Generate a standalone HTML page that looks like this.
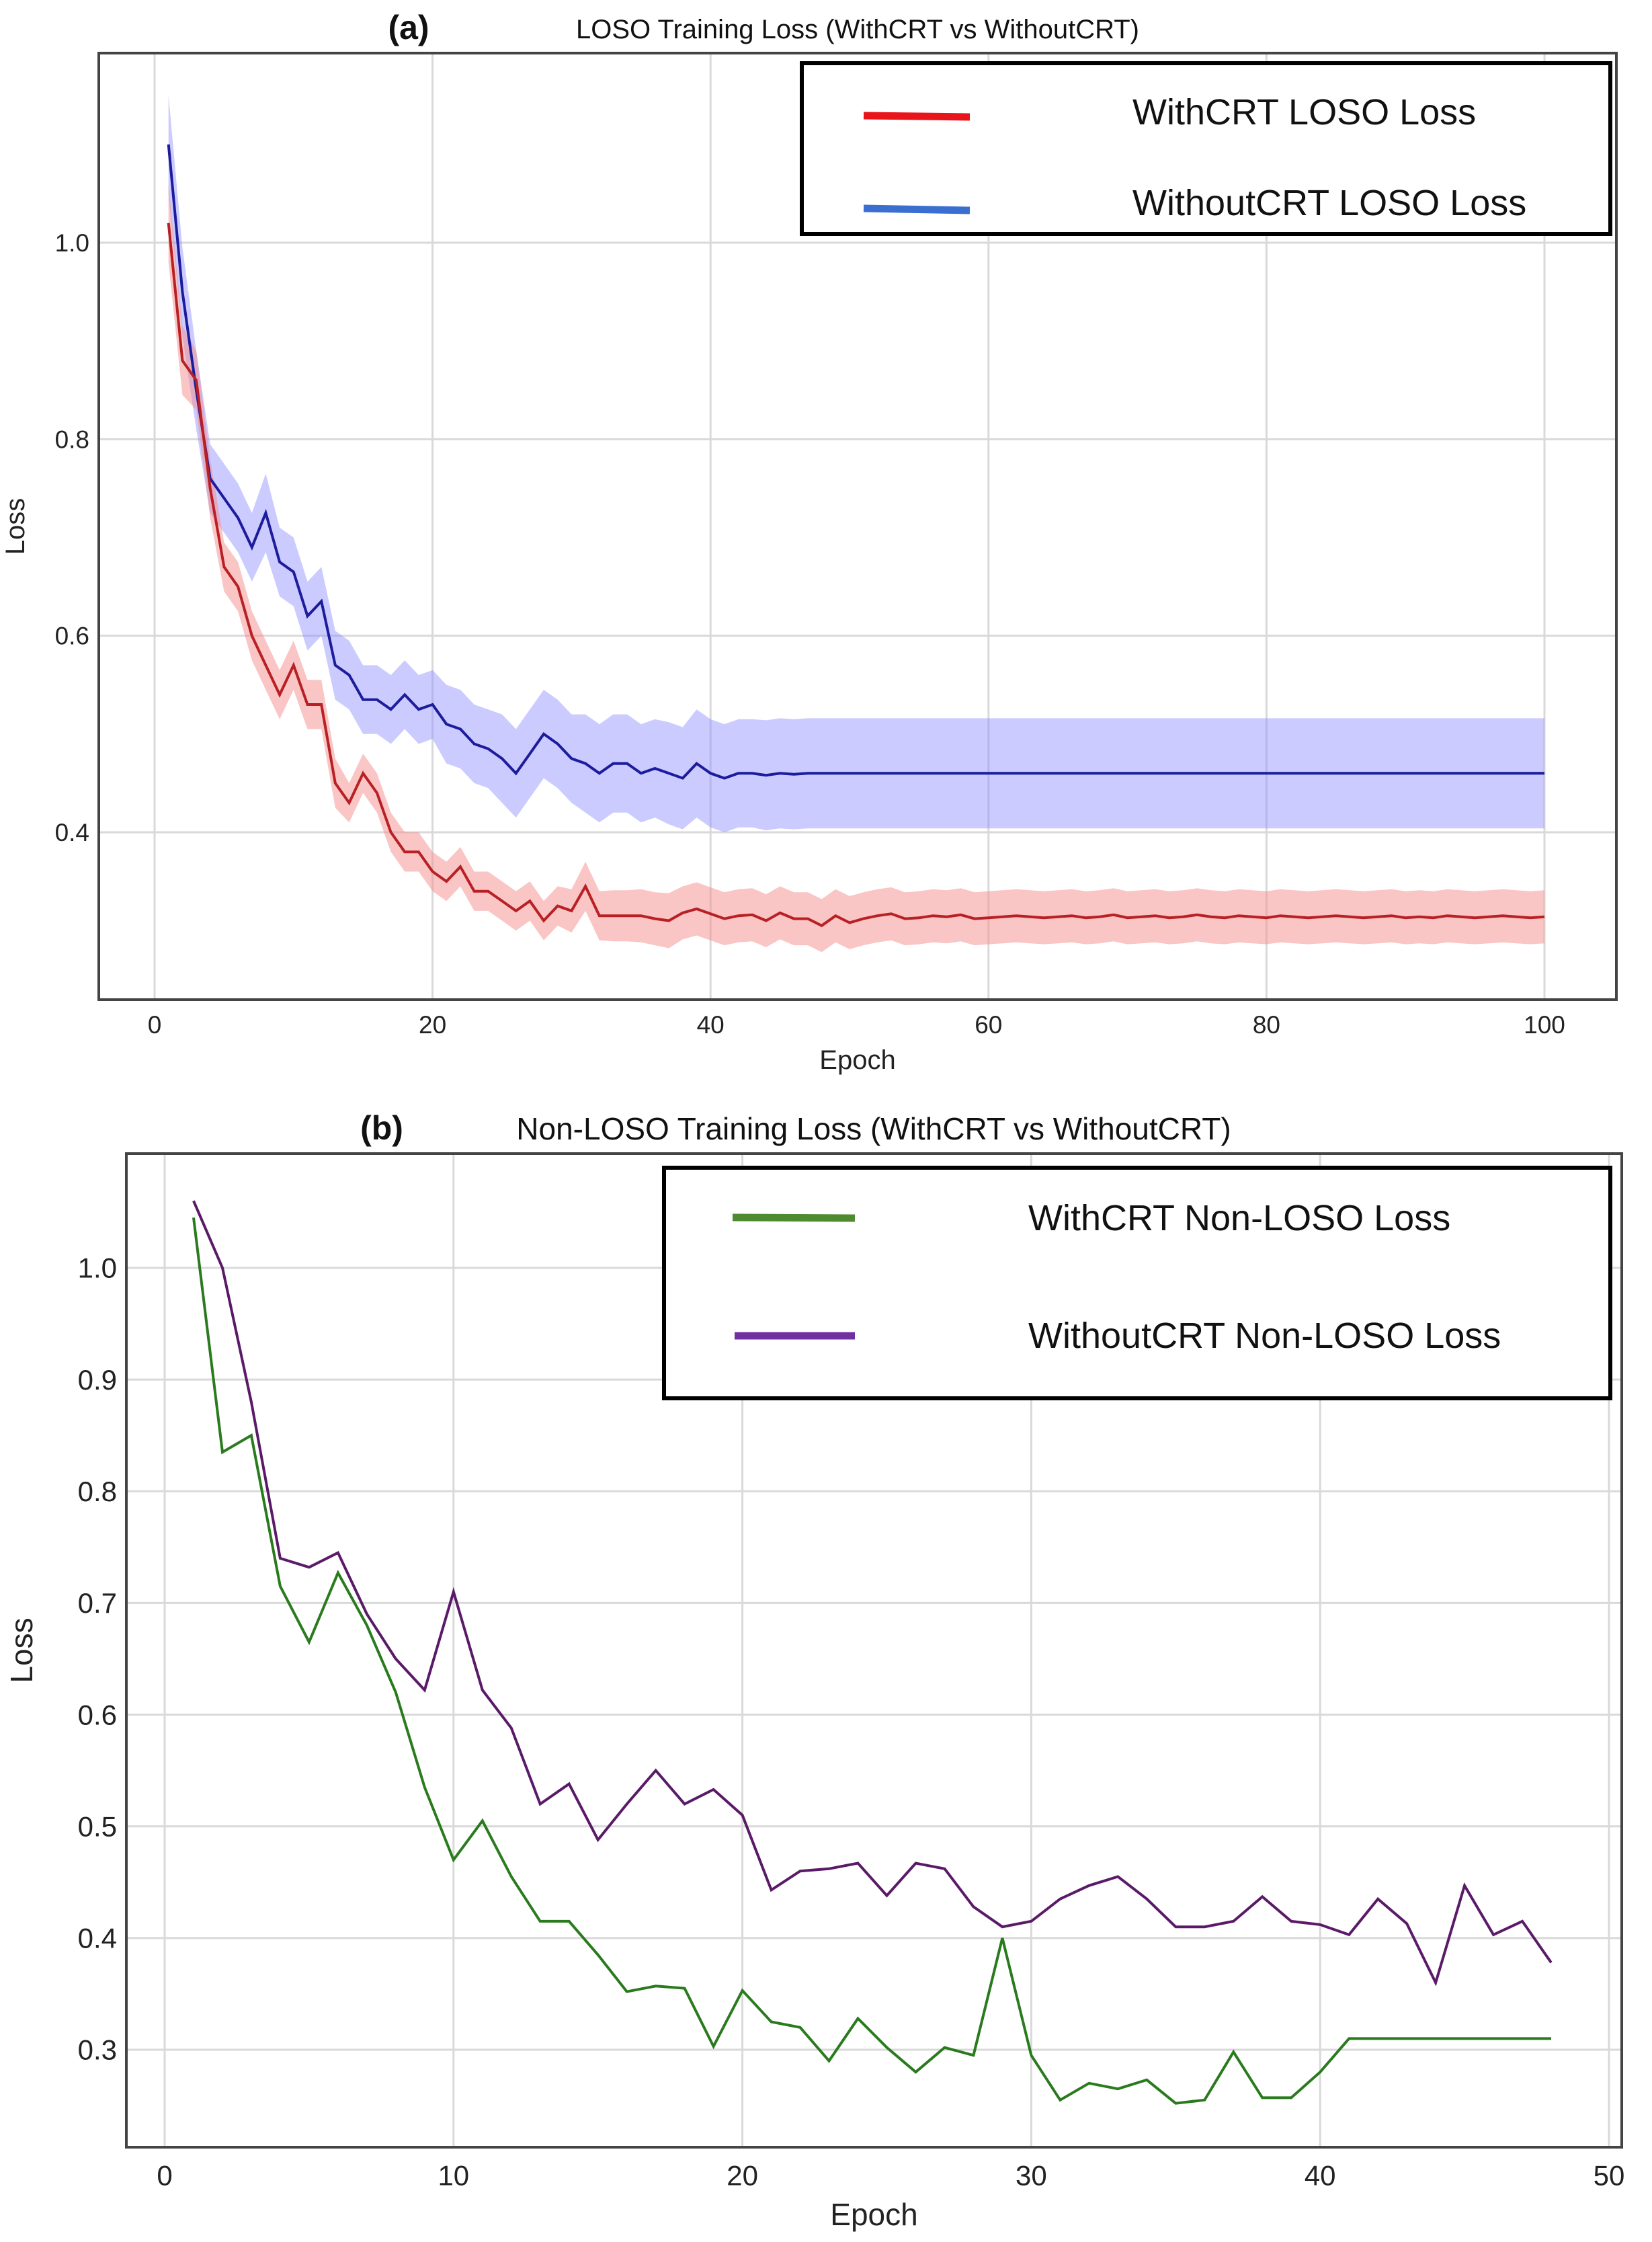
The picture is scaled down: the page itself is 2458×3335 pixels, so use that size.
<!DOCTYPE html>
<html><head><meta charset="utf-8"><style>
html,body{margin:0;padding:0;background:#fff;}
svg{display:block;font-family:"Liberation Sans",sans-serif;}
</style></head><body>
<svg id="fig" width="2458" height="3335" viewBox="0 0 2458 3335" xmlns="http://www.w3.org/2000/svg">
<rect width="2458" height="3335" fill="#fff"/>
<g id="chartA"></g>
<g id="chartB"></g>
</svg>
<script>
// ---- Chart A data ----
const aEpochs = Array.from({length:100},(_, i)=>i+1);
const aWithMean = [1.02,0.88,0.86,0.75,0.67,0.65,0.60,0.57,0.54,0.57,0.53,0.53,0.45,0.43,0.46,0.44,0.40,0.38,0.38,0.36,0.35,0.365,0.34,0.34,0.33,0.32,0.33,0.31,0.325,0.32,0.345,0.315,0.315,0.315,0.315,0.312,0.31,0.318,0.322,0.317,0.312,0.315,0.316,0.31,0.318,0.312,0.312,0.305,0.315,0.308,0.312,0.315,0.317,0.312,0.313,0.315,0.314,0.316,0.312,0.313,0.314,0.315,0.314,0.313,0.314,0.315,0.313,0.314,0.316,0.313,0.314,0.315,0.313,0.314,0.316,0.314,0.313,0.315,0.314,0.313,0.315,0.314,0.313,0.314,0.315,0.314,0.313,0.314,0.315,0.313,0.314,0.313,0.315,0.314,0.313,0.314,0.315,0.314,0.313,0.314];
const aWithBand = [0.04,0.035,0.03,0.03,0.025,0.025,0.025,0.025,0.025,0.025,0.025,0.025,0.025,0.02,0.02,0.02,0.02,0.02,0.02,0.02,0.02,0.02,0.02,0.02,0.02,0.02,0.02,0.02,0.02,0.022,0.025,0.025,0.026,0.026,0.027,0.027,0.028,0.027,0.027,0.027,0.027,0.027,0.027,0.027,0.027,0.027,0.027,0.027,0.027,0.027,0.027,0.027,0.027,0.027,0.027,0.027,0.027,0.027,0.027,0.027,0.027,0.027,0.027,0.027,0.027,0.027,0.027,0.027,0.027,0.027,0.027,0.027,0.027,0.027,0.027,0.027,0.027,0.027,0.027,0.027,0.027,0.027,0.027,0.027,0.027,0.027,0.027,0.027,0.027,0.027,0.027,0.027,0.027,0.027,0.027,0.027,0.027,0.027,0.027,0.027];
const aWithoutMean = [1.10,0.95,0.85,0.76,0.74,0.72,0.69,0.725,0.675,0.665,0.62,0.635,0.57,0.56,0.535,0.535,0.525,0.54,0.525,0.53,0.51,0.505,0.49,0.485,0.475,0.46,0.48,0.50,0.49,0.475,0.47,0.46,0.47,0.47,0.46,0.465,0.46,0.455,0.47,0.46,0.455,0.46,0.46,0.458,0.46,0.459,0.46,0.46,0.46,0.46,0.46,0.46,0.46,0.46,0.46,0.46,0.46,0.46,0.46,0.46,0.46,0.46,0.46,0.46,0.46,0.46,0.46,0.46,0.46,0.46,0.46,0.46,0.46,0.46,0.46,0.46,0.46,0.46,0.46,0.46,0.46,0.46,0.46,0.46,0.46,0.46,0.46,0.46,0.46,0.46,0.46,0.46,0.46,0.46,0.46,0.46,0.46,0.46,0.46,0.46];
const aWithoutBand = [0.05,0.045,0.04,0.035,0.035,0.035,0.035,0.04,0.035,0.035,0.035,0.035,0.035,0.035,0.035,0.035,0.035,0.035,0.035,0.035,0.04,0.04,0.04,0.04,0.045,0.045,0.045,0.045,0.045,0.045,0.05,0.05,0.05,0.05,0.05,0.05,0.052,0.052,0.055,0.055,0.055,0.055,0.055,0.056,0.056,0.056,0.056,0.056,0.056,0.056,0.056,0.056,0.056,0.056,0.056,0.056,0.056,0.056,0.056,0.056,0.056,0.056,0.056,0.056,0.056,0.056,0.056,0.056,0.056,0.056,0.056,0.056,0.056,0.056,0.056,0.056,0.056,0.056,0.056,0.056,0.056,0.056,0.056,0.056,0.056,0.056,0.056,0.056,0.056,0.056,0.056,0.056,0.056,0.056,0.056,0.056,0.056,0.056,0.056,0.056];
const aXTicks = [0,20,40,60,80,100];
const aYTicks = [0.4,0.6,0.8,1.0];
const aYTickLabels = ["0.4","0.6","0.8","1.0"];
// ---- Chart B data ----
const bEpochs = Array.from({length:48},(_, i)=>i+1);
const bWith = [1.045,0.835,0.85,0.715,0.665,0.727,0.68,0.62,0.535,0.47,0.505,0.455,0.415,0.415,0.385,0.352,0.357,0.355,0.303,0.353,0.325,0.32,0.29,0.328,0.302,0.28,0.302,0.295,0.40,0.295,0.255,0.27,0.265,0.273,0.252,0.255,0.298,0.257,0.257,0.28,0.31,0.31,0.31,0.31,0.31,0.31,0.31,0.31];
const bWithout = [1.06,1.0,0.88,0.74,0.732,0.745,0.69,0.65,0.622,0.71,0.622,0.588,0.52,0.538,0.488,0.52,0.55,0.52,0.533,0.51,0.443,0.46,0.462,0.467,0.438,0.467,0.462,0.428,0.41,0.415,0.435,0.447,0.455,0.435,0.41,0.41,0.415,0.437,0.415,0.412,0.403,0.435,0.413,0.36,0.447,0.403,0.415,0.378];
const bXTicks = [0,10,20,30,40,50];
const bYTicks = [0.3,0.4,0.5,0.6,0.7,0.8,0.9,1.0];
const bYTickLabels = ["0.3","0.4","0.5","0.6","0.7","0.8","0.9","1.0"];

const NS="http://www.w3.org/2000/svg";
function mk(parent,tag,attrs,text){const e=document.createElementNS(NS,tag);for(const k in attrs)e.setAttribute(k,attrs[k]);if(text!==undefined)e.textContent=text;parent.appendChild(e);return e;}
function lin(d0,d1,r0,r1){return v=>r0+(v-d0)*(r1-r0)/(d1-d0);}
function linePath(xs,ys,X,Y){return xs.map((x,i)=>(i?'L':'M')+X(x).toFixed(1)+' '+Y(ys[i]).toFixed(1)).join(' ');}
function bandPath(xs,m,b,X,Y){let p=xs.map((x,i)=>(i?'L':'M')+X(x).toFixed(1)+' '+Y(m[i]+b[i]).toFixed(1)).join(' ');for(let i=xs.length-1;i>=0;i--)p+='L'+X(xs[i]).toFixed(1)+' '+Y(m[i]-b[i]).toFixed(1);return p+'Z';}

function axesFrame(g,box,X,Y,xt,yt,ytl,fs,xlabY,ylabX,labFs){
  const grid=mk(g,'g',{});
  
  
  xt.forEach(t=>{mk(grid,'line',{x1:X(t),x2:X(t),y1:box.t,y2:box.b,stroke:'#d9d9d9','stroke-width':3});
    const l=mk(g,'text',{x:X(t),y:box.b+fs*1.35,'font-size':fs,'text-anchor':'middle',fill:'#222'},String(t));
    
    });
  yt.forEach((t,i)=>{mk(grid,'line',{x1:box.l,x2:box.r,y1:Y(t),y2:Y(t),stroke:'#d9d9d9','stroke-width':3});
    const l=mk(g,'text',{x:box.l-14,y:Y(t)+fs*0.35,'font-size':fs,'text-anchor':'end',fill:'#222'},ytl[i]);
    
    });
  const xl=mk(g,'text',{x:(box.l+box.r)/2,y:xlabY,'font-size':labFs,'text-anchor':'middle',fill:'#222'},'Epoch');
  
  
  const yl=mk(g,'text',{x:ylabX,y:(box.t+box.b)/2,'font-size':labFs,'text-anchor':'middle',fill:'#222',transform:`rotate(-90 ${ylabX} ${(box.t+box.b)/2})`},'Loss');
  
  
}
function frameBox(g,box){const r=mk(g,'rect',{x:box.l,y:box.t,width:box.r-box.l,height:box.b-box.t,fill:'none',stroke:'#444','stroke-width':4});
  
  }

// Chart A
(function(){
  const g=document.getElementById('chartA');
  const box={l:147,r:2405,t:79,b:1487};
  const X=lin(0,100,230,2298), Y=lin(0.4,1.0,1238,361);
  axesFrame(g,box,X,Y,aXTicks,aYTicks,aYTickLabels,37,1590,36,40);
  const b1=mk(g,'path',{d:bandPath(aEpochs,aWithoutMean,aWithoutBand,X,Y),fill:'rgba(140,140,255,0.45)'});
  
  
  const b2=mk(g,'path',{d:bandPath(aEpochs,aWithMean,aWithBand,X,Y),fill:'rgba(245,140,140,0.5)'});
  
  
  const l1=mk(g,'path',{d:linePath(aEpochs,aWithoutMean,X,Y),fill:'none',stroke:'#1c1c9c','stroke-width':4});
  
  
  const l2=mk(g,'path',{d:linePath(aEpochs,aWithMean,X,Y),fill:'none',stroke:'#b82024','stroke-width':4});
  
  
  frameBox(g,box);
  const t1=mk(g,'text',{x:608,y:58,'font-size':50,'font-weight':'bold','text-anchor':'middle',fill:'#111'},'(a)');
  
  
  const t2=mk(g,'text',{x:1276,y:57,'font-size':40,'text-anchor':'middle',fill:'#111'},'LOSO Training Loss (WithCRT vs WithoutCRT)');
  
  
  const lg=mk(g,'g',{});
  
  
  mk(lg,'rect',{x:1193,y:94,width:1203,height:254,fill:'#fff',stroke:'#000','stroke-width':6});
  mk(lg,'line',{x1:1285,x2:1443,y1:172,y2:174,stroke:'#e8161b','stroke-width':11});
  mk(lg,'line',{x1:1285,x2:1443,y1:310,y2:313,stroke:'#3a6fd0','stroke-width':11});
  const e1=mk(lg,'text',{x:1685,y:185,'font-size':54,fill:'#111'},'WithCRT LOSO Loss');
  
  
  const e2=mk(lg,'text',{x:1685,y:320,'font-size':54,fill:'#111'},'WithoutCRT LOSO Loss');
  
  
})();

// Chart B
(function(){
  const g=document.getElementById('chartB');
  const box={l:188,r:2413,t:1716,b:3194};
  const X=lin(0,50,245,2394), Y=lin(0.3,1.0,3049,1886);
  axesFrame(g,box,X,Y,bXTicks,bYTicks,bYTickLabels,42,3310,48,46);
  const l1=mk(g,'path',{d:linePath(bEpochs,bWithout,X,Y),fill:'none',stroke:'#5a1a68','stroke-width':4});
  
  
  const l2=mk(g,'path',{d:linePath(bEpochs,bWith,X,Y),fill:'none',stroke:'#2a7a1e','stroke-width':4});
  
  
  frameBox(g,box);
  const t1=mk(g,'text',{x:568,y:1695,'font-size':50,'font-weight':'bold','text-anchor':'middle',fill:'#111'},'(b)');
  
  
  const t2=mk(g,'text',{x:1300,y:1695,'font-size':46,'text-anchor':'middle',fill:'#111'},'Non-LOSO Training Loss (WithCRT vs WithoutCRT)');
  
  
  const lg=mk(g,'g',{});
  
  
  mk(lg,'rect',{x:988,y:1737,width:1408,height:343,fill:'#fff',stroke:'#000','stroke-width':6});
  mk(lg,'line',{x1:1090,x2:1272,y1:1811,y2:1812,stroke:'#4e8a30','stroke-width':11});
  mk(lg,'line',{x1:1093,x2:1272,y1:1987,y2:1987,stroke:'#7030a0','stroke-width':11});
  const e1=mk(lg,'text',{x:1530,y:1830,'font-size':54,fill:'#111'},'WithCRT Non-LOSO Loss');
  
  
  const e2=mk(lg,'text',{x:1530,y:2005,'font-size':54,fill:'#111'},'WithoutCRT Non-LOSO Loss');
  
  
})();
</script>
</body></html>
